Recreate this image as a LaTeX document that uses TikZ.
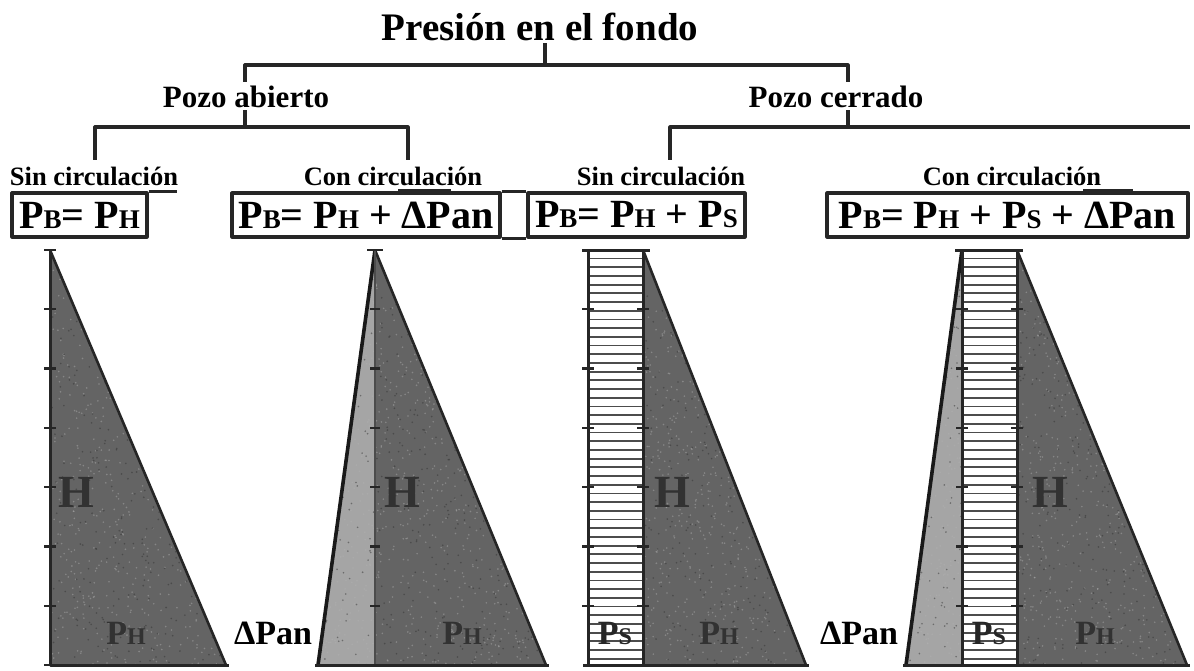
\documentclass[tikz,border=0pt]{standalone}
\usepackage{fontspec}
\setmainfont{Liberation Serif}
\newcommand\mysc[1]{{\fontsize{27}{30}\selectfont #1}}
\newcommand\myscs[1]{{\fontsize{24}{26}\selectfont #1}}
\definecolor{darkfill}{RGB}{100,100,100}
\definecolor{lightfill}{RGB}{165,165,165}
\definecolor{inkgray}{RGB}{50,50,50}
\newcommand\myspeckle[6]{% xmin ymin w h count colour
  \foreach \i in {1,...,#5}{%
    \pgfmathsetmacro\xx{#1+#3*rnd}\pgfmathsetmacro\yy{#2+#4*rnd}%
    \fill[#6] (\xx,\yy) circle (0.9);}}
\begin{document}
\begin{tikzpicture}[x=1pt,y=-1pt,line join=round]
\pgfmathsetseed{7}
\useasboundingbox (0,0) rectangle (1194,670);
\tikzset{
  tline/.style={line width=3.2pt,draw=black!85},
  ttl/.style={font=\fontsize{39}{42}\selectfont\bfseries,inner sep=2pt},
  lvlone/.style={font=\fontsize{31}{34}\selectfont\bfseries,inner sep=2pt},
  lvltwo/.style={font=\fontsize{26.5}{29}\selectfont\bfseries,inner sep=2pt},
  eqbox/.style={font=\fontsize{40}{44}\selectfont\bfseries,draw=black!85,line width=3.2pt,
     minimum height=44pt,inner sep=0pt},
  tribord/.style={draw=black!85,line width=2.6pt},
  thickedge/.style={draw=black!90,line width=3.6pt},
  axisline/.style={draw=black!85,line width=3pt},
  tickmark/.style={draw=black!85,line width=2.4pt},
  hatchline/.style={draw=black!70,line width=1.8pt},
  bigH/.style={font=\fontsize{46}{50}\selectfont\bfseries,text=inkgray,inner sep=0pt},
  plab/.style={font=\fontsize{34}{38}\selectfont\bfseries,text=inkgray,inner sep=0pt},
  dlab/.style={font=\fontsize{34}{38}\selectfont\bfseries,inner sep=0pt},
  lspk/.style={black!30,opacity=0.45},
  dspk/.style={black!80,opacity=0.5},
}
% ---------- tree ----------
\node[ttl] (t) at (540,27) {Presión en el fondo};
\node[lvlone] (pa) at (246,97) {Pozo abierto};
\node[lvlone] (pc) at (836,97) {Pozo cerrado};
\node[lvltwo] (l1) at (94,176) {Sin circulación};
\node[lvltwo] (l2) at (393,176) {Con circulación};
\node[lvltwo] (l3) at (661,176) {Sin circulación};
\node[lvltwo] (l4) at (1012,176) {Con circulación};

\coordinate (tj) at (545,65);
\coordinate (paTop) at (245,82);
\coordinate (pcTop) at (848,82);
\coordinate (paj) at (245,127);
\coordinate (pcj) at (848,127);
\coordinate (l1Top) at (95,160);
\coordinate (l2Top) at (408,160);
\coordinate (l3Top) at (670,160);
\coordinate (rEnd) at (1190,127);

\draw[tline] (t.south -| tj) -- (tj);
\draw[tline] (tj) -| (paTop);
\draw[tline] (tj) -| (pcTop);
\draw[tline] (pa.south -| paj) -- (paj);
\draw[tline] (paj) -| (l1Top);
\draw[tline] (paj) -| (l2Top);
\draw[tline] (pc.south -| pcj) -- (pcj);
\draw[tline] (pcj) -| (l3Top);
\draw[tline] (pcj) -- (rEnd);

% ---------- equation boxes ----------
\node[eqbox,minimum width=135pt] (b1) at (79.5,215) {P\mysc{B}= P\mysc{H}};
\node[eqbox,minimum width=268pt] (b2) at (366,215) {P\mysc{B}= P\mysc{H} + ΔPan};
\node[eqbox,minimum width=217pt] (b3) at (636.5,215) {P\mysc{B}= P\mysc{H} + P\mysc{S}};
\node[eqbox,minimum width=361pt] (b4) at (1007.5,215) {P\mysc{B}= P\mysc{H} + P\mysc{S} + ΔPan};
\draw[tline] (b1.north east) -- ++(28,0);
\draw[tline] (b2.north east) -- (b3.north west);
\draw[tline] (b2.south east) -- (b3.south west);
\draw[line width=5pt,draw=black!85] ([xshift=168pt]b2.north west) -- ++(53,0);
\draw[line width=5pt,draw=black!85] ([xshift=258pt]b4.north west) -- ++(50,0);

% ---------- diagram 1 ----------
\coordinate (a1t) at (50,250);
\coordinate (a1b) at (50,665);
\coordinate (a1r) at (226,665);
\fill[darkfill] (a1t) -- (a1b) -- (a1r) -- cycle;
\begin{scope}
  \clip (a1t) -- (a1b) -- (a1r) -- cycle;
  \myspeckle{50}{250}{176}{415}{700}{lspk}
  \myspeckle{50}{250}{176}{415}{350}{dspk}
\end{scope}
\draw[tribord] (a1t) -- (a1r);
\draw[axisline] (a1t) -- (a1b) -- ([xshift=3pt]a1r);
\foreach \k in {0,...,7} {\draw[tickmark] ([yshift=-\k*59.29pt]a1t) ++(-6,0) -- ++(12,0);}
\node[bigH] (h1) at (76,492) {H};
\node[plab] (p1) at (126,633) {P\myscs{H}};

% ---------- diagram 2 ----------
\coordinate (a2t) at (375,250);
\coordinate (a2b) at (375,665);
\coordinate (a2l) at (318,665);
\coordinate (a2r) at (546,665);
\fill[lightfill] (a2t) -- (a2l) -- (a2b) -- cycle;
\fill[darkfill] (a2t) -- (a2b) -- (a2r) -- cycle;
\begin{scope}
  \clip (a2t) -- (a2l) -- (a2b) -- cycle;
  \myspeckle{318}{250}{57}{415}{250}{lspk}
  \myspeckle{318}{250}{57}{415}{120}{dspk}
\end{scope}
\begin{scope}
  \clip (a2t) -- (a2b) -- (a2r) -- cycle;
  \myspeckle{375}{250}{171}{415}{700}{lspk}
  \myspeckle{375}{250}{171}{415}{350}{dspk}
\end{scope}
\draw[tribord] (a2t) -- (a2r);
\draw[thickedge] (a2t) -- (a2l);
\draw[draw=black!70,line width=1.4pt] (a2t) -- (a2b);
\draw[axisline] ([xshift=-3pt]a2l) -- ([xshift=3pt]a2r);
\draw[tickmark] ([xshift=-8pt]a2t) -- ([xshift=8pt]a2t);
\foreach \k in {1,...,6} {\draw[tickmark] ([yshift=-\k*59.29pt]a2t) ++(-5,0) -- ++(10,0);}
\node[dlab] (d2) at (273,633) {ΔPan};
\node[bigH] (h2) at (402,492) {H};
\node[plab] (p2) at (462,633) {P\myscs{H}};

% ---------- diagram 3 ----------
\coordinate (r3tl) at (588,250);
\coordinate (r3tr) at (643,250);
\coordinate (r3bl) at (588,665);
\coordinate (r3br) at (643,665);
\coordinate (a3r) at (806,665);
\fill[white] (r3tl) rectangle (r3br);
\foreach \y in {258.5,267.2,...,660} {\draw[hatchline] (588,\y) -- (643,\y);}
\fill[darkfill] (r3tr) -- (r3br) -- (a3r) -- cycle;
\begin{scope}
  \clip (r3tr) -- (r3br) -- (a3r) -- cycle;
  \myspeckle{643}{250}{163}{415}{700}{lspk}
  \myspeckle{643}{250}{163}{415}{350}{dspk}
\end{scope}
\draw[tribord] (r3tr) -- (a3r);
\draw[axisline] (r3tl) -- (r3bl);
\draw[axisline] (r3tr) -- (r3br);
\draw[axisline] ([xshift=-6pt]r3tl) -- ([xshift=7pt]r3tr);
\draw[axisline] ([xshift=-5pt]r3bl) -- ([xshift=3pt]a3r);
\foreach \k in {1,...,6} {
  \draw[tickmark] ([yshift=-\k*59.29pt]r3tl) ++(-6,0) -- ++(12,0);
  \draw[tickmark] ([yshift=-\k*59.29pt]r3tr) ++(-6,0) -- ++(12,0);}
\node[bigH] (h3) at (672,492) {H};
\node[plab,text=black!85] (s3) at (615,633) {P\myscs{S}};
\node[plab] (p3) at (719,633) {P\myscs{H}};

% ---------- diagram 4 ----------
\coordinate (r4tl) at (962,250);
\coordinate (r4tr) at (1017,250);
\coordinate (r4bl) at (962,665);
\coordinate (r4br) at (1017,665);
\coordinate (a4l) at (906,665);
\coordinate (a4r) at (1187,665);
\fill[lightfill] (r4tl) -- (a4l) -- (r4bl) -- cycle;
\begin{scope}
  \clip (r4tl) -- (a4l) -- (r4bl) -- cycle;
  \myspeckle{906}{250}{56}{415}{250}{lspk}
  \myspeckle{906}{250}{56}{415}{120}{dspk}
\end{scope}
\fill[white] (r4tl) rectangle (r4br);
\foreach \y in {258.5,267.2,...,660} {\draw[hatchline] (962,\y) -- (1017,\y);}
\fill[darkfill] (r4tr) -- (r4br) -- (a4r) -- cycle;
\begin{scope}
  \clip (r4tr) -- (r4br) -- (a4r) -- cycle;
  \myspeckle{1017}{250}{170}{415}{700}{lspk}
  \myspeckle{1017}{250}{170}{415}{350}{dspk}
\end{scope}
\draw[tribord] (r4tr) -- (a4r);
\draw[thickedge] (r4tl) -- (a4l);
\draw[axisline] (r4tl) -- (r4bl);
\draw[axisline] (r4tr) -- (r4br);
\draw[axisline] ([xshift=-7pt]r4tl) -- ([xshift=6pt]r4tr);
\draw[axisline] ([xshift=-3pt]a4l) -- ([xshift=3pt]a4r);
\foreach \k in {1,...,6} {
  \draw[tickmark] ([yshift=-\k*59.29pt]r4tl) ++(-6,0) -- ++(12,0);
  \draw[tickmark] ([yshift=-\k*59.29pt]r4tr) ++(-6,0) -- ++(12,0);}
\node[dlab] (d4) at (859,633) {ΔPan};
\node[bigH] (h4) at (1050,492) {H};
\node[plab,text=black!85] (s4) at (989,633) {P\myscs{S}};
\node[plab] (p4) at (1095,633) {P\myscs{H}};
\end{tikzpicture}
\end{document}
